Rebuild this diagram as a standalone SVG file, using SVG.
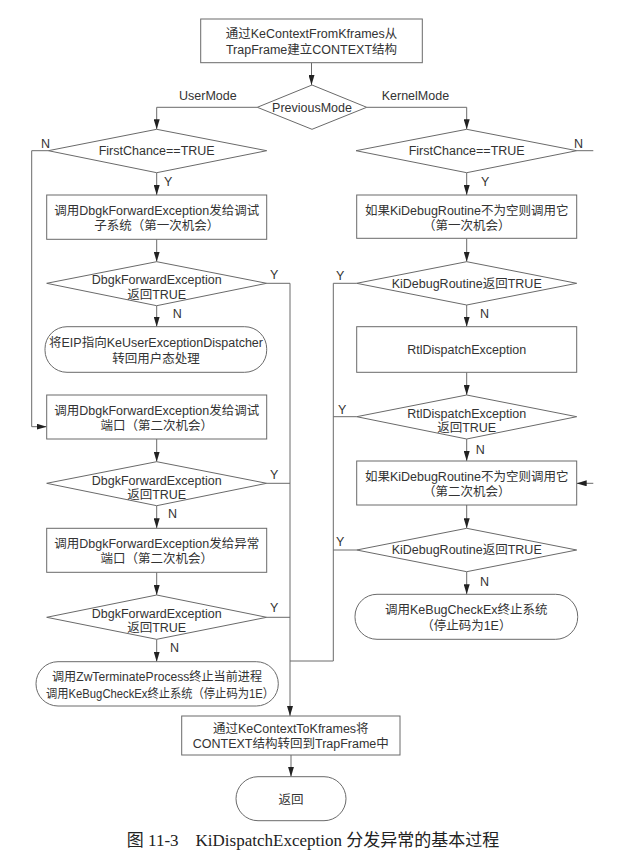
<svg xmlns="http://www.w3.org/2000/svg" width="641" height="862" viewBox="0 0 641 862">
<style>
.s{fill:#fff;stroke:#6a6a6a;stroke-width:1}
.t{font-family:"Liberation Sans","Noto Sans CJK SC",sans-serif;font-size:12.5px;fill:#333;text-anchor:middle}
.l{font-family:"Liberation Sans","Noto Sans CJK SC",sans-serif;font-size:12.5px;fill:#333}
.c{fill:none;stroke:#6a6a6a;stroke-width:1}
.cap{font-family:"Liberation Serif","Noto Sans CJK SC",serif;font-size:17px;fill:#222;text-anchor:middle}
</style>
<defs>
<marker id="ah" viewBox="0 0 10 6" refX="10" refY="3" markerWidth="10" markerHeight="6" markerUnits="userSpaceOnUse" orient="auto">
<path d="M0,0 L10,3 L0,6 z" fill="#222"/>
</marker>
</defs>
<rect width="641" height="862" fill="#fff"/>
<g id="connectors">
<path class="c" d="M311.5,62.7 V85" marker-end="url(#ah)"/>
<path class="c" d="M257.3,107.3 H156.7 V129.3" marker-end="url(#ah)"/>
<path class="c" d="M366.7,107.3 H466.7 V129.3" marker-end="url(#ah)"/>
<path class="c" d="M48.3,150.7 H31.7 V426.7 H46.7" marker-end="url(#ah)"/>
<path class="c" d="M156.7,172.7 V195" marker-end="url(#ah)"/>
<path class="c" d="M156.7,239.3 V261.7" marker-end="url(#ah)"/>
<path class="c" d="M266.7,283.3 H290 V716" marker-end="url(#ah)"/>
<path class="c" d="M156.7,305.7 V326.7" marker-end="url(#ah)"/>
<path class="c" d="M156.7,439 V461.7" marker-end="url(#ah)"/>
<path class="c" d="M266.7,483.3 H290"/>
<path class="c" d="M156.7,505.7 V528.3" marker-end="url(#ah)"/>
<path class="c" d="M156.7,572.3 V595" marker-end="url(#ah)"/>
<path class="c" d="M266.7,617.3 H290"/>
<path class="c" d="M156.7,639.3 V661.7" marker-end="url(#ah)"/>
<path class="c" d="M576.7,150.7 H593.3"/>
<path class="c" d="M466.7,172.7 V195" marker-end="url(#ah)"/>
<path class="c" d="M466.7,238.3 V261.7" marker-end="url(#ah)"/>
<path class="c" d="M356.7,283.3 H333.3 V661 H290"/>
<path class="c" d="M466.7,305 V326.7" marker-end="url(#ah)"/>
<path class="c" d="M466.7,372.3 V395" marker-end="url(#ah)"/>
<path class="c" d="M356.7,416.7 H333.3"/>
<path class="c" d="M466.7,439 V461" marker-end="url(#ah)"/>
<path class="c" d="M593.3,483.3 H576.7" marker-end="url(#ah)"/>
<path class="c" d="M466.7,505 V528.3" marker-end="url(#ah)"/>
<path class="c" d="M356.7,550 H333.3"/>
<path class="c" d="M466.7,571.7 V594.3" marker-end="url(#ah)"/>
<path class="c" d="M291,755 V776.7" marker-end="url(#ah)"/>
</g>
<g id="labels">
<text class="l" x="179" y="99.5">UserMode</text>
<text class="l" x="381.7" y="99.5">KernelMode</text>
<text class="l" x="41" y="148">N</text>
<text class="l" x="574" y="148">N</text>
<text class="l" x="164" y="186">Y</text>
<text class="l" x="481" y="186">Y</text>
<text class="l" x="270" y="279">Y</text>
<text class="l" x="172.7" y="318">N</text>
<text class="l" x="270" y="479">Y</text>
<text class="l" x="168" y="518">N</text>
<text class="l" x="270" y="612">Y</text>
<text class="l" x="170" y="652">N</text>
<text class="l" x="336" y="280">Y</text>
<text class="l" x="480" y="318">N</text>
<text class="l" x="338" y="414">Y</text>
<text class="l" x="475.7" y="454">N</text>
<text class="l" x="336" y="546">Y</text>
<text class="l" x="480" y="586">N</text>
</g>
<g id="n_start">
<rect class="s" x="200.7" y="19" width="221.6" height="43.7"/>
<text class="t" x="311.5" y="38">通过KeContextFromKframes从</text>
<text class="t" x="311.5" y="54">TrapFrame建立CONTEXT结构</text>
</g>
<g id="n_prevmode">
<polygon class="s" points="312,85 366.7,107.3 312,129.3 257.3,107.3"/>
<text class="t" x="312" y="111.7">PreviousMode</text>
</g>
<g id="n_l_fc">
<polygon class="s" points="156.7,129.3 266.7,150.7 156.7,172.7 48.3,150.7"/>
<text class="t" x="156.7" y="155.1">FirstChance==TRUE</text>
</g>
<g id="n_l1">
<rect class="s" x="46.7" y="195" width="220" height="44.3"/>
<text class="t" x="156.7" y="214.5">调用DbgkForwardException发给调试</text>
<text class="t" x="156.7" y="229.5">子系统（第一次机会）</text>
</g>
<g id="n_l2">
<polygon class="s" points="156.7,261.7 266.7,283.3 156.7,305.7 46.7,283.3"/>
<text class="t" x="156.7" y="284">DbgkForwardException</text>
<text class="t" x="156.7" y="298.5">返回TRUE</text>
</g>
<g id="n_l3">
<rect class="s" x="45" y="326.7" width="221.7" height="45.6" rx="22" ry="22"/>
<text class="t" x="156" y="347" textLength="214" lengthAdjust="spacingAndGlyphs">将EIP指向KeUserExceptionDispatcher</text>
<text class="t" x="156" y="362.7">转回用户态处理</text>
</g>
<g id="n_l4">
<rect class="s" x="46.7" y="395" width="220" height="44"/>
<text class="t" x="156.7" y="415">调用DbgkForwardException发给调试</text>
<text class="t" x="156.7" y="429.5">端口（第二次机会）</text>
</g>
<g id="n_l5">
<polygon class="s" points="156.7,461.7 266.7,483.3 156.7,505.7 46.7,483.3"/>
<text class="t" x="156.7" y="484.5">DbgkForwardException</text>
<text class="t" x="156.7" y="498.5">返回TRUE</text>
</g>
<g id="n_l6">
<rect class="s" x="46.7" y="528.3" width="220" height="44"/>
<text class="t" x="156.7" y="548">调用DbgkForwardException发给异常</text>
<text class="t" x="156.7" y="563">端口（第二次机会）</text>
</g>
<g id="n_l7">
<polygon class="s" points="156.7,595 266.7,617.3 156.7,639.3 46.7,617.3"/>
<text class="t" x="156.7" y="618">DbgkForwardException</text>
<text class="t" x="156.7" y="632">返回TRUE</text>
</g>
<g id="n_l8">
<rect class="s" x="36" y="661.7" width="242.3" height="44.3" rx="22" ry="22"/>
<text class="t" x="157" y="681" textLength="210" lengthAdjust="spacingAndGlyphs">调用ZwTerminateProcess终止当前进程</text>
<text class="t" x="160" y="697.5" textLength="228" lengthAdjust="spacingAndGlyphs">调用KeBugCheckEx终止系统（停止码为1E）</text>
</g>
<g id="n_r_fc">
<polygon class="s" points="466.7,129.3 576.7,150.7 466.7,172.7 356,150.7"/>
<text class="t" x="466.7" y="155.1">FirstChance==TRUE</text>
</g>
<g id="n_r1">
<rect class="s" x="356.7" y="195" width="220" height="43.3"/>
<text class="t" x="466.7" y="214.5">如果KiDebugRoutine不为空则调用它</text>
<text class="t" x="466.7" y="229.5">（第一次机会）</text>
</g>
<g id="n_r2">
<polygon class="s" points="466.7,261.7 576.7,283.3 466.7,305 356.7,283.3"/>
<text class="t" x="466.7" y="287.7">KiDebugRoutine返回TRUE</text>
</g>
<g id="n_r3">
<rect class="s" x="356.7" y="326.7" width="220" height="45.6"/>
<text class="t" x="466.7" y="353.7">RtlDispatchException</text>
</g>
<g id="n_r4">
<polygon class="s" points="466.7,395 576.7,416.7 466.7,439 356.7,416.7"/>
<text class="t" x="466.7" y="418">RtlDispatchException</text>
<text class="t" x="466.7" y="432">返回TRUE</text>
</g>
<g id="n_r5">
<rect class="s" x="356.7" y="461" width="220" height="44"/>
<text class="t" x="466.7" y="481">如果KiDebugRoutine不为空则调用它</text>
<text class="t" x="466.7" y="496">（第二次机会）</text>
</g>
<g id="n_r6">
<polygon class="s" points="466.7,528.3 576.7,550 466.7,571.7 356.7,550"/>
<text class="t" x="466.7" y="554.4">KiDebugRoutine返回TRUE</text>
</g>
<g id="n_r7">
<rect class="s" x="355" y="594.3" width="222.7" height="45" rx="22" ry="22"/>
<text class="t" x="466.3" y="613.5">调用KeBugCheckEx终止系统</text>
<text class="t" x="466.3" y="629.5">（停止码为1E）</text>
</g>
<g id="n_end_ctx">
<rect class="s" x="181.7" y="716" width="218.3" height="39"/>
<text class="t" x="290.8" y="732.5">通过KeContextToKframes将</text>
<text class="t" x="290.8" y="748">CONTEXT结构转回到TrapFrame中</text>
</g>
<g id="n_return">
<rect class="s" x="236" y="776.7" width="110" height="44" rx="22" ry="22"/>
<text class="t" x="291" y="803.5">返回</text>
</g>
<text class="cap" x="313" y="846">图 11-3　KiDispatchException 分发异常的基本过程</text>
</svg>
